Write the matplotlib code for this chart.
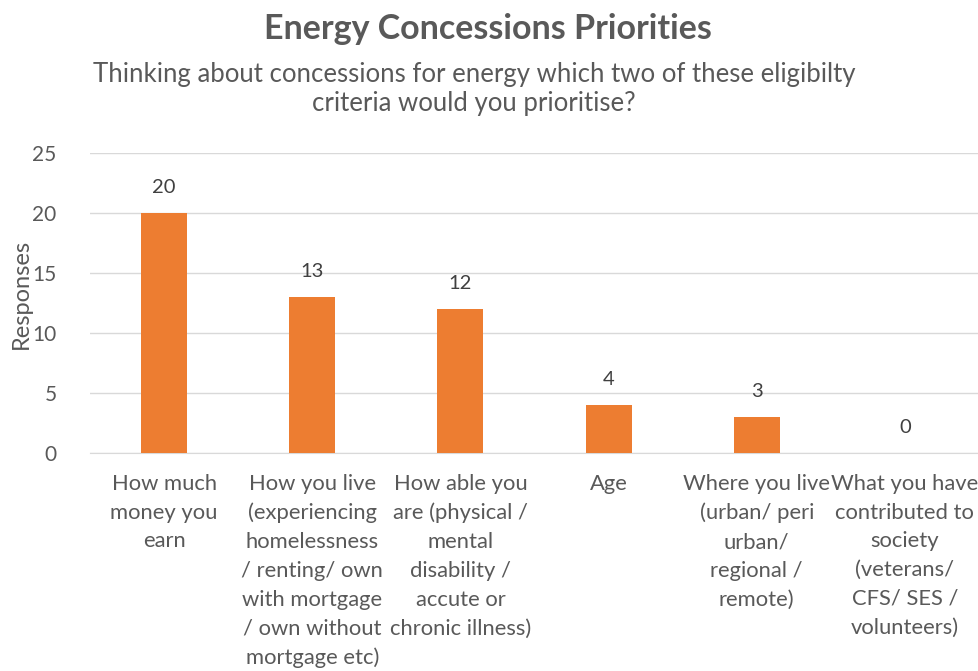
import matplotlib.pyplot as plt

plt.rcParams['font.family'] = ['Lato', 'DejaVu Sans']

categories = [
    "How much\nmoney you\nearn",
    "How you live\n(experiencing\nhomelessness\n/ renting/ own\nwith mortgage\n/ own without\nmortgage etc)",
    "How able you\nare (physical /\nmental\ndisability /\naccute or\nchronic illness)",
    "Age",
    "Where you live\n(urban/ peri\nurban/\nregional /\nremote)",
    "What you have\ncontributed to\nsociety\n(veterans/\nCFS/ SES /\nvolunteers)",
]
responses = [20, 13, 12, 4, 3, 0]

text_col = "#595959"

fig = plt.figure(figsize=(9.79, 6.71), dpi=100)
ax = fig.add_axes([0.092, 0.325, 0.908, 0.447])

x = range(len(categories))
ax.bar(x, responses, width=0.31, color="#ED7D31", zorder=3)
for xi, v in zip(x, responses):
    ax.text(xi, v + 2.1, str(v), ha="center", va="center", fontsize=14.5, color="#404040")

ax.set_xlim(-0.5, len(categories) - 0.5)
ax.set_ylim(0, 25)
ax.set_yticks(range(0, 26, 5))
ax.yaxis.grid(True, color="#D9D9D9", linewidth=1, zorder=0)
for s in ["top", "right", "left"]:
    ax.spines[s].set_visible(False)
ax.spines["bottom"].set_color("#D9D9D9")
ax.tick_params(axis="both", length=0, labelcolor=text_col)
ax.tick_params(axis="y", pad=24, labelsize=15)
ax.set_xticks(list(x))
ax.set_xticklabels(categories, va="top", linespacing=1.55, fontsize=15.8)
ax.tick_params(axis="x", pad=15)
ax.set_ylabel("Responses", fontsize=17, color=text_col)
ax.yaxis.set_label_coords(-0.066, 0.53)

fig.text(0.498, 0.957, "Energy Concessions Priorities", ha="center", va="center",
         fontsize=24.5, fontweight="bold", color=text_col)
fig.text(0.484, 0.867, "Thinking about concessions for energy which two of these eligibilty\ncriteria would you prioritise?",
         ha="center", va="center", fontsize=18.5, color=text_col, linespacing=1.2)

fig.savefig("out.png", dpi=100)
